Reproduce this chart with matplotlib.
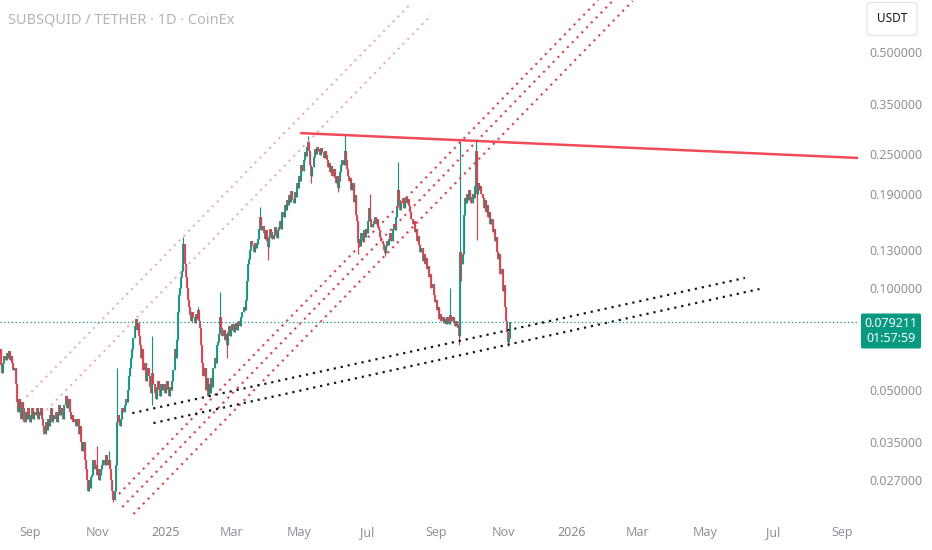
import numpy as np
import pandas as pd
import matplotlib
matplotlib.use('Agg')
import matplotlib.pyplot as plt
import matplotlib.dates as mdates
from matplotlib.ticker import NullLocator

# daily closes SUBSQUID / USDT, starting 2024-08-05
start_day = '2024-08-05'
first_open = 0.064
closes = [
    0.066, 0.059, 0.056, 0.060, 0.063, 0.061, 0.064,
    0.062, 0.065, 0.061, 0.063, 0.060, 0.057, 0.058,
    0.052, 0.046, 0.043, 0.047, 0.044, 0.041, 0.046,
    0.044, 0.040, 0.043, 0.041, 0.044, 0.042, 0.040,
    0.042, 0.044, 0.041, 0.043, 0.042, 0.044, 0.041,
    0.043, 0.042, 0.044, 0.041, 0.039, 0.037, 0.040,
    0.038, 0.041, 0.039, 0.042, 0.044, 0.040, 0.042,
    0.041, 0.043, 0.040, 0.042, 0.045, 0.042, 0.044,
    0.043, 0.041, 0.045, 0.048, 0.044, 0.046, 0.047,
    0.043, 0.041, 0.042, 0.040, 0.041, 0.039, 0.040,
    0.041, 0.037, 0.039, 0.035, 0.033, 0.035, 0.031,
    0.029, 0.027, 0.025, 0.027, 0.0255, 0.0275, 0.028,
    0.031, 0.029, 0.030, 0.028, 0.029, 0.027, 0.028,
    0.029, 0.030, 0.031, 0.030, 0.032, 0.031, 0.030,
    0.031, 0.029, 0.027, 0.025, 0.0235, 0.025, 0.030,
    0.040, 0.042, 0.040, 0.039, 0.041, 0.044, 0.043,
    0.045, 0.047, 0.046, 0.050, 0.055, 0.058, 0.062,
    0.066, 0.071, 0.077, 0.081, 0.075, 0.079, 0.072,
    0.068, 0.062, 0.066, 0.057, 0.060, 0.053, 0.056,
    0.058, 0.055, 0.051, 0.049, 0.056, 0.052, 0.049,
    0.047, 0.051, 0.053, 0.050, 0.048, 0.052, 0.050,
    0.052, 0.049, 0.051, 0.053, 0.050, 0.048, 0.051,
    0.050, 0.053, 0.057, 0.066, 0.062, 0.070, 0.085,
    0.095, 0.100, 0.108, 0.112, 0.135, 0.118, 0.108,
    0.100, 0.092, 0.088, 0.083, 0.080, 0.085, 0.082,
    0.079, 0.084, 0.081, 0.086, 0.080, 0.076, 0.068,
    0.060, 0.055, 0.058, 0.050, 0.054, 0.048, 0.052,
    0.049, 0.054, 0.051, 0.058, 0.062, 0.060, 0.068,
    0.069, 0.073, 0.082, 0.076, 0.072, 0.075, 0.070,
    0.073, 0.068, 0.074, 0.077, 0.072, 0.075, 0.078,
    0.074, 0.076, 0.079, 0.075, 0.078, 0.080, 0.077,
    0.082, 0.085, 0.088, 0.086, 0.092, 0.105, 0.118,
    0.122, 0.130, 0.138, 0.134, 0.128, 0.136, 0.131,
    0.135, 0.140, 0.150, 0.162, 0.148, 0.153, 0.145,
    0.140, 0.148, 0.138, 0.132, 0.142, 0.150, 0.146,
    0.140, 0.144, 0.152, 0.145, 0.141, 0.148, 0.152,
    0.158, 0.150, 0.168, 0.162, 0.176, 0.170, 0.182,
    0.176, 0.188, 0.180, 0.194, 0.184, 0.178, 0.192,
    0.186, 0.205, 0.198, 0.215, 0.208, 0.232, 0.222,
    0.240, 0.252, 0.246, 0.262, 0.270, 0.255, 0.232,
    0.215, 0.228, 0.245, 0.258, 0.250, 0.262, 0.255,
    0.258, 0.248, 0.260, 0.252, 0.242, 0.255, 0.248,
    0.240, 0.228, 0.235, 0.220, 0.230, 0.215, 0.225,
    0.212, 0.205, 0.215, 0.198, 0.208, 0.220, 0.232,
    0.240, 0.232, 0.255, 0.240, 0.225, 0.215, 0.208,
    0.212, 0.195, 0.204, 0.180, 0.188, 0.165, 0.158,
    0.136, 0.140, 0.133, 0.145, 0.138, 0.148, 0.142,
    0.150, 0.145, 0.158, 0.172, 0.160, 0.152, 0.155,
    0.158, 0.162, 0.155, 0.160, 0.152, 0.148, 0.142,
    0.138, 0.135, 0.130, 0.127, 0.133, 0.138, 0.134,
    0.140, 0.145, 0.138, 0.150, 0.155, 0.148, 0.162,
    0.175, 0.195, 0.182, 0.170, 0.178, 0.185, 0.172,
    0.180, 0.186, 0.178, 0.183, 0.175, 0.168, 0.160,
    0.155, 0.158, 0.146, 0.150, 0.138, 0.143, 0.134,
    0.128, 0.131, 0.120, 0.126, 0.118, 0.123, 0.114,
    0.116, 0.108, 0.110, 0.100, 0.103, 0.095, 0.091,
    0.092, 0.086, 0.088, 0.081, 0.084, 0.080, 0.082,
    0.079, 0.081, 0.078, 0.082, 0.080, 0.078, 0.083,
    0.080, 0.082, 0.079, 0.077, 0.080, 0.078, 0.076,
    0.072, 0.128, 0.118, 0.126, 0.165, 0.185, 0.178,
    0.190, 0.182, 0.195, 0.186, 0.178, 0.190, 0.185,
    0.200, 0.255, 0.190, 0.205, 0.195, 0.200, 0.190,
    0.185, 0.172, 0.182, 0.168, 0.176, 0.162, 0.168,
    0.155, 0.160, 0.146, 0.150, 0.138, 0.142, 0.128,
    0.122, 0.126, 0.110, 0.114, 0.098, 0.102, 0.088,
    0.080, 0.074, 0.069, 0.071, 0.079211,
]

# long wicks that stick out of the bodies
wick_high = {
    '2024-10-31': 0.034, '2024-11-11': 0.033, '2024-11-18': 0.058,
    '2024-12-20': 0.072, '2025-01-17': 0.142, '2025-01-30': 0.088,
    '2025-02-19': 0.097, '2025-03-27': 0.174, '2025-05-09': 0.281,
    '2025-06-11': 0.284, '2025-07-04': 0.190, '2025-07-29': 0.236,
    '2025-09-14': 0.100, '2025-09-23': 0.272, '2025-10-07': 0.272,
}
wick_low = {
    '2024-11-15': 0.0232, '2024-12-20': 0.045, '2025-02-25': 0.062,
    '2025-04-03': 0.121, '2025-05-12': 0.205, '2025-06-05': 0.193,
    '2025-06-23': 0.126, '2025-07-17': 0.124, '2025-09-22': 0.068,
    '2025-09-24': 0.105, '2025-10-08': 0.139, '2025-11-05': 0.0675,
}

last_price = 0.079211
countdown = '01:57:59'

# drawings on the chart: (dates, prices)
resistance = (['2025-05-02', '2026-09-16'], [0.2876, 0.2427])
support_upper = (['2024-12-02', '2026-06-06'], [0.0426, 0.1071])
support_lower = (['2024-12-21', '2026-06-19'], [0.0398, 0.0993])
channel_red = [
    (['2024-11-20', '2026-01-25'], [0.02454, 0.7128]),
    (['2024-11-23', '2026-02-06'], [0.02245, 0.7035]),
    (['2024-12-03', '2026-02-25'], [0.0214, 0.7082]),
]
channel_pink = [
    (['2024-08-29', '2025-08-10'], [0.0476, 0.6985]),
    (['2024-09-16', '2025-08-28'], [0.0435, 0.6437]),
]

price_ticks = [0.5, 0.35, 0.25, 0.19, 0.13, 0.10, 0.05, 0.035, 0.027]
time_ticks = ['2024-09-01', '2024-11-01', '2025-01-01', '2025-03-01', '2025-05-01',
              '2025-07-01', '2025-09-01', '2025-11-01', '2026-01-01', '2026-03-01',
              '2026-05-01', '2026-07-01', '2026-09-01']
time_labels = ['Sep', 'Nov', '2025', 'Mar', 'May', 'Jul', 'Sep', 'Nov', '2026',
               'Mar', 'May', 'Jul', 'Sep']

UP = '#089981'
DOWN = '#F23645'

plt.rcParams['font.family'] = ['Noto Sans', 'DejaVu Sans']

dates = pd.date_range(start_day, periods=len(closes), freq='D')
x = mdates.date2num(dates)
c = np.array(closes)
o = np.concatenate([[first_open], c[:-1]])
hi = np.maximum(o, c)
lo = np.minimum(o, c)
for d, v in wick_high.items():
    i = dates.get_loc(pd.Timestamp(d))
    hi[i] = max(hi[i], v)
for d, v in wick_low.items():
    i = dates.get_loc(pd.Timestamp(d))
    lo[i] = min(lo[i], v)
colors = np.where(c >= o, UP, DOWN)

fig = plt.figure(figsize=(9.32, 5.5), dpi=100)
ax = fig.add_axes([0, 32 / 550, 858 / 932, 518 / 550])

ax.vlines(x, lo, hi, colors=colors, lw=0.8)
ax.vlines(x, o, c, colors=colors, lw=1.3)


def d2n(ds):
    return mdates.date2num(pd.to_datetime(ds))


for ds, ps in channel_pink:
    ax.plot(d2n(ds), ps, color='#F7A1A9', lw=1.4, ls=(0, (1, 2.5)))
for ds, ps in channel_red:
    ax.plot(d2n(ds), ps, color='#F23645', lw=1.5, ls=(0, (1, 2.3)))
for ds, ps in [support_upper, support_lower]:
    ax.plot(d2n(ds), ps, color='#131722', lw=1.6, ls=(0, (1, 2.2)))
ax.plot(d2n(resistance[0]), resistance[1], color='#F23645', lw=1.8, alpha=0.9,
        solid_capstyle='butt')

ax.axhline(last_price, color=UP, lw=0.9, ls=(0, (1, 2)))

ax.set_yscale('log')
ax.set_ylim(0.02083, 0.7128)
x0 = mdates.date2num(pd.Timestamp(start_day))
ax.set_xlim(x0, x0 + 771.6)

ax.yaxis.tick_right()
ax.set_yticks(price_ticks)
ax.set_yticklabels([f'{p:.6f}' for p in price_ticks])
ax.yaxis.set_minor_locator(NullLocator())
ax.tick_params(axis='y', length=0, pad=8, labelsize=9, labelcolor='#8f929b')

ax.set_xticks(d2n(time_ticks))
ax.set_xticklabels(time_labels)
ax.tick_params(axis='x', length=0, pad=6, labelsize=9, labelcolor='#8f929b')
for lab in ax.get_xticklabels():
    if lab.get_text().isdigit():
        lab.set_fontweight('bold')
        lab.set_color('#868993')

for s in ax.spines.values():
    s.set_visible(False)

fig.text(8 / 932, 1 - 20 / 550, 'SUBSQUID / TETHER · 1D · CoinEx', fontsize=10.5,
         color='#b2b5be', va='center', ha='left')
fig.text(892 / 932, 1 - 19 / 550, 'USDT', fontsize=8.5, color='#131722', va='center',
         ha='center', bbox=dict(boxstyle='round,pad=0.85,rounding_size=0.4', fc='white',
                                ec='#e0e3eb', lw=0.8))
fig.text(891 / 932, 1 - 331 / 550, f'{last_price:.6f}\n{countdown}', fontsize=9,
         color='white', va='center', ha='center', linespacing=1.2,
         bbox=dict(boxstyle='round,pad=0.28,rounding_size=0.15', fc=UP, ec='none'))

fig.savefig('out.png', dpi=100)
